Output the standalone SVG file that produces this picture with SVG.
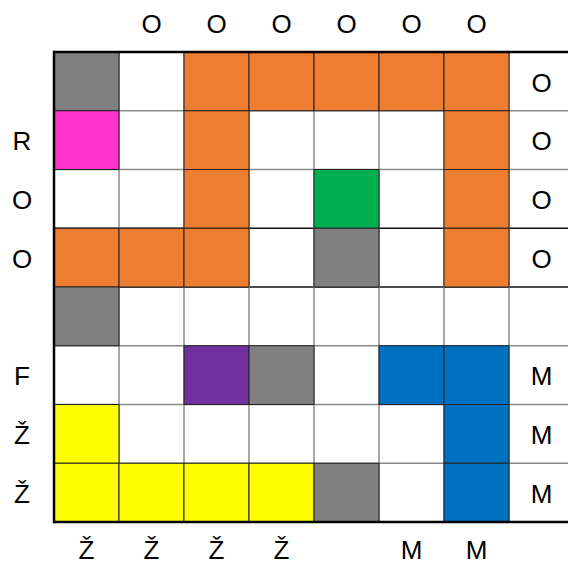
<svg xmlns="http://www.w3.org/2000/svg" width="568" height="565" viewBox="0 0 568 565">
<style>
text{font-family:"Liberation Sans",Arial,sans-serif;font-size:26px;fill:#000;text-anchor:middle}
.c{stroke:#222;stroke-width:1}
.gy{fill:#808080}.or{fill:#ED7D31}.mg{fill:#FF33CC}.gn{fill:#00B050}.pu{fill:#7030A0}.bl{fill:#0070C0}.ye{fill:#FFFF00}
.g{stroke:#8a8a8a;stroke-width:1.5}
.k{stroke:#111;stroke-width:1.5}
</style>
<rect width="568" height="565" fill="#fff"/>
<g id="grid-lines">
<line class="g" x1="54" y1="110.75" x2="568" y2="110.75"/>
<line class="g" x1="54" y1="169.5" x2="568" y2="169.5"/>
<line class="k" x1="54" y1="228.25" x2="568" y2="228.25"/>
<line class="k" x1="54" y1="287" x2="568" y2="287"/>
<line class="g" x1="54" y1="345.75" x2="568" y2="345.75"/>
<line class="g" x1="54" y1="404.5" x2="568" y2="404.5"/>
<line class="g" x1="54" y1="463.25" x2="568" y2="463.25"/>
<line class="g" x1="119" y1="52" x2="119" y2="522"/>
<line class="g" x1="184" y1="52" x2="184" y2="522"/>
<line class="g" x1="249" y1="52" x2="249" y2="522"/>
<line class="g" x1="314" y1="52" x2="314" y2="522"/>
<line class="g" x1="379" y1="52" x2="379" y2="522"/>
<line class="g" x1="444" y1="52" x2="444" y2="522"/>
<line class="g" x1="509" y1="52" x2="509" y2="522"/>
</g>
<g id="cells">
<rect class="c gy" x="54" y="52" width="65" height="58.75"/>
<rect class="c or" x="184" y="52" width="65" height="58.75"/>
<rect class="c or" x="249" y="52" width="65" height="58.75"/>
<rect class="c or" x="314" y="52" width="65" height="58.75"/>
<rect class="c or" x="379" y="52" width="65" height="58.75"/>
<rect class="c or" x="444" y="52" width="65" height="58.75"/>
<rect class="c mg" x="54" y="110.75" width="65" height="58.75"/>
<rect class="c or" x="184" y="110.75" width="65" height="58.75"/>
<rect class="c or" x="444" y="110.75" width="65" height="58.75"/>
<rect class="c or" x="184" y="169.5" width="65" height="58.75"/>
<rect class="c gn" x="314" y="169.5" width="65" height="58.75"/>
<rect class="c or" x="444" y="169.5" width="65" height="58.75"/>
<rect class="c or" x="54" y="228.25" width="65" height="58.75"/>
<rect class="c or" x="119" y="228.25" width="65" height="58.75"/>
<rect class="c or" x="184" y="228.25" width="65" height="58.75"/>
<rect class="c gy" x="314" y="228.25" width="65" height="58.75"/>
<rect class="c or" x="444" y="228.25" width="65" height="58.75"/>
<rect class="c gy" x="54" y="287" width="65" height="58.75"/>
<rect class="c pu" x="184" y="345.75" width="65" height="58.75"/>
<rect class="c gy" x="249" y="345.75" width="65" height="58.75"/>
<rect class="c bl" x="379" y="345.75" width="65" height="58.75"/>
<rect class="c bl" x="444" y="345.75" width="65" height="58.75"/>
<rect class="c ye" x="54" y="404.5" width="65" height="58.75"/>
<rect class="c bl" x="444" y="404.5" width="65" height="58.75"/>
<rect class="c ye" x="54" y="463.25" width="65" height="58.75"/>
<rect class="c ye" x="119" y="463.25" width="65" height="58.75"/>
<rect class="c ye" x="184" y="463.25" width="65" height="58.75"/>
<rect class="c ye" x="249" y="463.25" width="65" height="58.75"/>
<rect class="c gy" x="314" y="463.25" width="65" height="58.75"/>
<rect class="c bl" x="444" y="463.25" width="65" height="58.75"/>
</g>
<g id="border">
<line x1="54" y1="52" x2="568" y2="52" stroke="#000" stroke-width="2.5"/>
<line x1="54" y1="522" x2="568" y2="522" stroke="#000" stroke-width="2.5"/>
<line x1="54" y1="50.75" x2="54" y2="523.25" stroke="#000" stroke-width="2.5"/>
</g>
<g id="top-labels">
<text x="151.5" y="32.5">O</text>
<text x="216.5" y="32.5">O</text>
<text x="281.5" y="32.5">O</text>
<text x="346.5" y="32.5">O</text>
<text x="411.5" y="32.5">O</text>
<text x="476.5" y="32.5">O</text>
</g>
<g id="right-labels">
<text x="541.5" y="91.5">O</text>
<text x="541.5" y="150.3">O</text>
<text x="541.5" y="209">O</text>
<text x="541.5" y="267.8">O</text>
<text x="541.5" y="385.3">M</text>
<text x="541.5" y="444">M</text>
<text x="541.5" y="502.8">M</text>
</g>
<g id="left-labels">
<text x="22" y="150.3">R</text>
<text x="22" y="209">O</text>
<text x="22" y="267.8">O</text>
<text x="22" y="385.3">F</text>
<text x="22" y="444">Ž</text>
<text x="22" y="502.8">Ž</text>
</g>
<g id="bottom-labels">
<text x="86.5" y="558.5">Ž</text>
<text x="151.5" y="558.5">Ž</text>
<text x="216.5" y="558.5">Ž</text>
<text x="281.5" y="558.5">Ž</text>
<text x="411.5" y="558.5">M</text>
<text x="476.5" y="558.5">M</text>
</g>
</svg>
